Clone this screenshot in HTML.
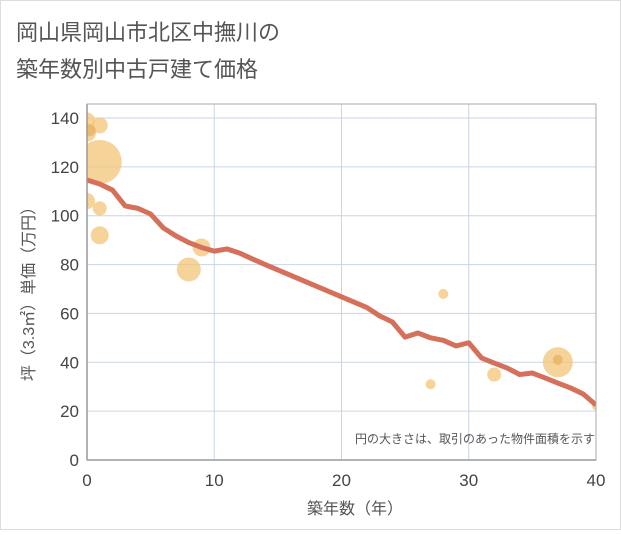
<!DOCTYPE html>
<html><head><meta charset="utf-8"><style>
body{margin:0;background:#fff;}
svg text{font-family:"Liberation Sans","Noto Sans CJK JP",sans-serif;}
</style></head><body>
<svg width="621" height="530">
<defs><clipPath id="pc"><rect x="87" y="104" width="509" height="356"/></clipPath></defs>
<rect x="0.5" y="0.5" width="620" height="529" fill="#fff" stroke="#ddd"/>
<text x="16" y="40" font-size="22" fill="#555">岡山県岡山市北区中撫川の</text>
<text x="16" y="77" font-size="22" fill="#555">築年数別中古戸建て価格</text>
<g id="grid"></g>
<g id="bubbles" clip-path="url(#pc)"></g>
<g id="line" clip-path="url(#pc)"></g>
<g id="axes"></g>
<text x="595" y="443" font-size="12" fill="#555" text-anchor="end">円の大きさは、取引のあった物件面積を示す</text>
<text x="355" y="514" font-size="16" fill="#555" text-anchor="middle">築年数（年）</text>
<text transform="translate(34,290) rotate(-90)" font-size="16" fill="#555" text-anchor="middle">坪（3.3㎡）単価（万円）</text>
</svg>
<script>
const xTicks=[0,10,20,30,40];
const yTicks=[0,20,40,60,80,100,120,140];
const lineX=[0,1,2,3,4,5,6,7,8,9,10,11,12,13,14,15,16,17,18,19,20,21,22,23,24,25,26,27,28,29,30,31,32,33,34,35,36,37,38,39,40];
const lineY=[114.6,113,110.5,104,103,100.7,95,91.7,89,87,85.5,86.4,84.7,82.3,80,77.8,75.6,73.4,71.2,69,66.8,64.6,62.4,59,56.5,50.3,52,50,49,46.7,48,41.8,39.7,37.7,35,35.6,33.6,31.5,29.5,27,22.5];
const bubX=[1,0,0,1,0.2,0,1,1,9,8,28,27,32,37,37,40];
const bubY=[122,139,134,137,135,106,103,92,87,78,68,31,35,40,41,22];
const bubR=[22,8,9,8,6,8,7,9,9,12,5,5,7,15,5,4];
const bubDark=[0,0,0,0,1,0,0,0,0,0,0,0,0,0,1,0];
const X0=87,X1=596,Y0=460,Y1=118;
const sx=v=>X0+(v-0)/(40-0)*(X1-X0);
const sy=v=>Y0-(v/140)*(Y0-Y1);
const NS="http://www.w3.org/2000/svg";
function mk(p,t,a){const e=document.createElementNS(NS,t);for(const k in a)e.setAttribute(k,a[k]);p.appendChild(e);return e;}
const g=document.getElementById('grid');
const ax=document.getElementById('axes');
yTicks.forEach(v=>{
 if(v>0){const l=mk(g,'line',{x1:X0,x2:X1,y1:sy(v),y2:sy(v),stroke:'#c9d6e6','stroke-width':1});
 
 }
 const t=mk(ax,'text',{x:X0-8,y:sy(v)+6,'font-size':17,fill:'#444','text-anchor':'end'});t.textContent=v;
 
 
});
xTicks.forEach(v=>{
 if(v>0&&v<40){const l=mk(g,'line',{x1:sx(v),x2:sx(v),y1:104,y2:Y0,stroke:'#c9d6e6','stroke-width':1});
 
 }
 const t=mk(ax,'text',{x:sx(v),y:Y0+26,'font-size':17,fill:'#444','text-anchor':'middle'});t.textContent=v;
 
 
});
const box=mk(ax,'rect',{x:X0,y:104,width:X1-X0,height:Y0-104,fill:'none',stroke:'#aaa','stroke-width':1});


const a1=mk(ax,'line',{x1:X0,x2:X0,y1:104,y2:Y0,stroke:'#999','stroke-width':1.5});


const a2=mk(ax,'line',{x1:X0,x2:X1,y1:Y0,y2:Y0,stroke:'#999','stroke-width':1.5});


const b=document.getElementById('bubbles');
bubX.forEach((v,i)=>{
 const c=mk(b,'circle',{cx:sx(v),cy:sy(bubY[i]),r:bubR[i],fill:bubDark[i]?'#e8b462':'#f3c477','fill-opacity':bubDark[i]?0.8:0.75});
 
 
});
const ln=document.getElementById('line');
const p=mk(ln,'polyline',{points:lineX.map((v,i)=>sx(v)+','+sy(lineY[i])).join(' '),fill:'none',stroke:'#d5705a','stroke-width':5,'stroke-linejoin':'round'});


</script>
</body></html>
